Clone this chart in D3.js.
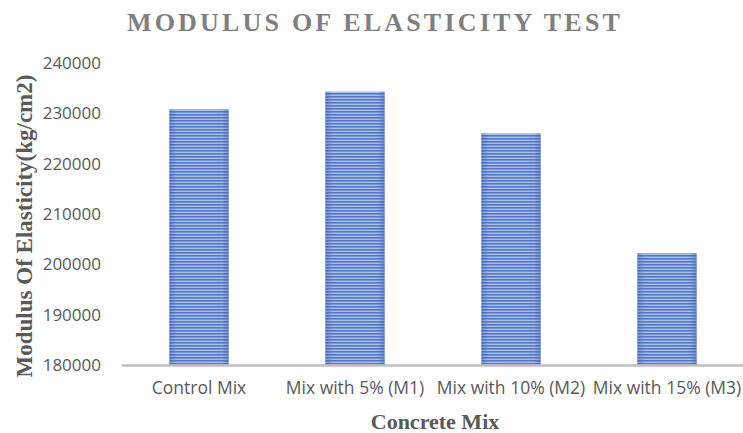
<!DOCTYPE html>
<html><head><meta charset="utf-8">
<script src="https://cdn.jsdelivr.net/npm/d3@7/dist/d3.min.js"></script>
<style>body{margin:0;background:#fff}</style>
</head><body>
<svg id="c" width="743" height="433"></svg>
<script>
const categories = ["Control Mix","Mix with 5% (M1)","Mix with 10% (M2)","Mix with 15% (M3)"];
const values = [230800, 234300, 226000, 202200];
const yTicks = [180000,190000,200000,210000,220000,230000,240000];

const svg = d3.select("#c");
const m = {l:121, r:745, t:63, b:365};
const x = d3.scaleBand().domain(categories).range([m.l, m.r]).paddingInner(0.62).paddingOuter(0.31);
const y = d3.scaleLinear().domain([180000,240000]).range([m.b, m.t]);

const defs = svg.append("defs");
const pat = defs.append("pattern").attr("id","stripe").attr("patternUnits","userSpaceOnUse")
  .attr("width",10).attr("height",3);
pat.append("rect").attr("width",10).attr("height",3).attr("fill","#a9bfea");
pat.append("rect").attr("width",10).attr("height",1.6).attr("fill","#5679c6");
const g = defs.append("linearGradient").attr("id","edge");
g.append("stop").attr("offset","0").attr("stop-color","#3a5fae").attr("stop-opacity",0.45);
g.append("stop").attr("offset","0.12").attr("stop-color","#3a5fae").attr("stop-opacity",0);
g.append("stop").attr("offset","0.88").attr("stop-color","#3a5fae").attr("stop-opacity",0);
g.append("stop").attr("offset","1").attr("stop-color","#3a5fae").attr("stop-opacity",0.45);

const bars = svg.append("g");
bars.selectAll("rect.b").data(values).join("rect").attr("class","b")
  .attr("x",(d,i)=>x(categories[i])).attr("width",x.bandwidth())
  .attr("y",d=>y(d)).attr("height",d=>y(180000)-y(d)).attr("fill","url(#stripe)");
bars.selectAll("rect.e").data(values).join("rect").attr("class","e")
  .attr("x",(d,i)=>x(categories[i])).attr("width",x.bandwidth())
  .attr("y",d=>y(d)).attr("height",d=>y(180000)-y(d)).attr("fill","url(#edge)");

const yAxis = svg.append("g").attr("transform",`translate(${m.l},0)`)
  .call(d3.axisLeft(y).tickValues(yTicks).tickFormat(d3.format("d")).tickSize(0).tickPadding(20));
yAxis.select(".domain").remove();
yAxis.selectAll("text").attr("font-family","Open Sans").attr("font-size",17).attr("fill","#595959");

const xAxis = svg.append("g").attr("transform",`translate(0,${m.b})`)
  .call(d3.axisBottom(x).tickSize(0).tickPadding(17));
xAxis.select(".domain").attr("stroke","#bfbfbf").attr("stroke-width",2.5);
xAxis.selectAll("text").attr("font-family","Open Sans").attr("font-size",17.5).attr("fill","#595959");

svg.append("text").attr("x",375).attr("y",31).attr("text-anchor","middle")
  .attr("font-family","Liberation Serif").attr("font-weight","bold").attr("font-size",26)
  .attr("letter-spacing",3.2).attr("fill","#7f7f7f").text("MODULUS OF ELASTICITY TEST");

svg.append("text").attr("x",435).attr("y",429).attr("text-anchor","middle")
  .attr("font-family","Liberation Serif").attr("font-weight","bold").attr("font-size",22)
  .attr("fill","#595959").text("Concrete Mix");

svg.append("text").attr("transform","translate(32,226) rotate(-90)").attr("text-anchor","middle")
  .attr("font-family","Liberation Serif").attr("font-weight","bold").attr("font-size",23)
  .attr("fill","#595959").text("Modulus Of Elasticity(kg/cm2)");
</script>
</body></html>
